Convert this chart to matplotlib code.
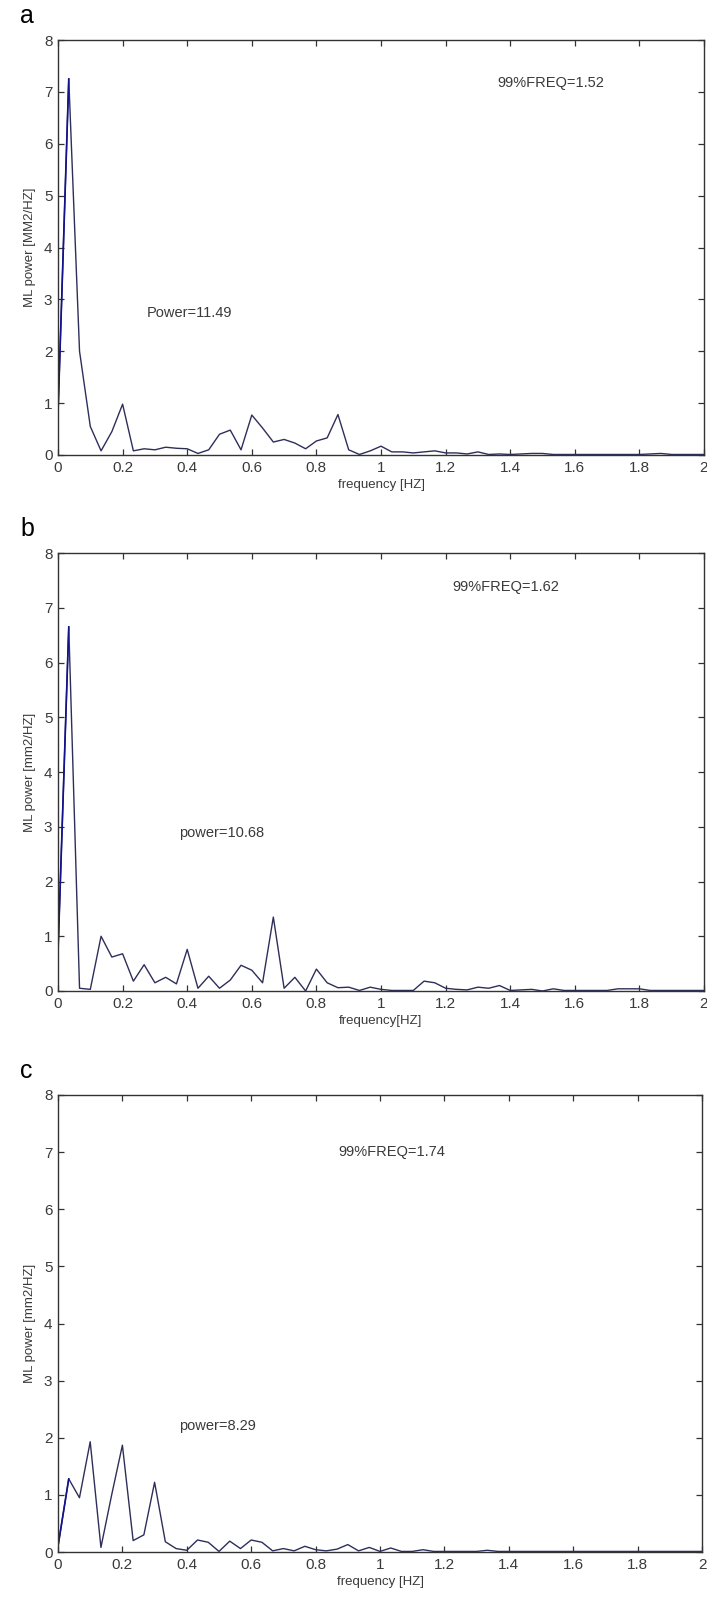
import numpy as np
import matplotlib
matplotlib.use("Agg")
import matplotlib.pyplot as plt

plt.rcParams['font.family'] = ['Liberation Sans', 'DejaVu Sans']

# frequency grid, 1/30 Hz spacing
freq = np.arange(61) / 30.0

# panel a
power_a = [0.8, 7.25, 2.0, 0.55, 0.08, 0.45, 0.98, 0.08, 0.12, 0.1,
           0.15, 0.13, 0.12, 0.03, 0.1, 0.4, 0.48, 0.1, 0.77, 0.52,
           0.25, 0.3, 0.23, 0.12, 0.27, 0.33, 0.78, 0.1, 0.01, 0.08,
           0.17, 0.06, 0.06, 0.04, 0.06, 0.08, 0.04, 0.04, 0.02, 0.06,
           0.01, 0.02, 0.01, 0.02, 0.03, 0.03, 0.01, 0.01, 0.01, 0.01,
           0.01, 0.01, 0.01, 0.01, 0.01, 0.02, 0.03, 0.01, 0.01, 0.01, 0.01]
# panel b
power_b = [0.7, 6.65, 0.05, 0.03, 1.0, 0.62, 0.68, 0.18, 0.48, 0.15,
           0.25, 0.13, 0.76, 0.05, 0.27, 0.05, 0.2, 0.47, 0.38, 0.15,
           1.35, 0.05, 0.25, 0.0, 0.4, 0.15, 0.06, 0.07, 0.01, 0.07,
           0.03, 0.01, 0.01, 0.01, 0.18, 0.15, 0.05, 0.03, 0.02, 0.07,
           0.05, 0.1, 0.01, 0.02, 0.03, 0.0, 0.04, 0.01, 0.01, 0.01,
           0.01, 0.01, 0.04, 0.04, 0.04, 0.01, 0.01, 0.01, 0.01, 0.01, 0.01]
# panel c
power_c = [0.1, 1.28, 0.95, 1.93, 0.08, 1.0, 1.87, 0.2, 0.3, 1.22,
           0.18, 0.06, 0.03, 0.21, 0.17, 0.01, 0.19, 0.06, 0.21, 0.17,
           0.02, 0.06, 0.02, 0.1, 0.04, 0.02, 0.05, 0.13, 0.02, 0.08,
           0.01, 0.07, 0.01, 0.01, 0.04, 0.01, 0.01, 0.01, 0.01, 0.01,
           0.03, 0.01, 0.01, 0.01, 0.01, 0.01, 0.01, 0.01, 0.01, 0.01,
           0.01, 0.01, 0.01, 0.01, 0.01, 0.01, 0.01, 0.01, 0.01, 0.01, 0.01]

letters = ["a", "b", "c"]
ylabels = ["ML power [MM2/HZ]", "ML power [mm2/HZ]", "ML power [mm2/HZ]"]
xlabels = ["frequency [HZ]", "frequency[HZ]", "frequency [HZ]"]
freq99 = ["99%FREQ=1.52", "99%FREQ=1.62", "99%FREQ=1.74"]
freq99_pos = [(1.36, 7.17), (1.22, 7.38), (0.87, 7.0)]
totals = ["Power=11.49", "power=10.68", "power=8.29"]
totals_pos = [(0.275, 2.74), (0.375, 2.89), (0.375, 2.2)]
series = [power_a, power_b, power_c]

W, H = 707, 1604
# axes boxes in pixels: left, right, top, bottom
boxes = [(58, 704, 40, 455), (58, 704, 553, 991), (58, 702, 1095, 1552)]

fig = plt.figure(figsize=(W / 100, H / 100), dpi=100)
line_col = "#2e2e5a"
txt_col = "#3a3a3a"

for i in range(3):
    l, r, t, b = boxes[i]
    ax = fig.add_axes([l / W, (H - b) / H, (r - l) / W, (b - t) / H])
    ax.plot(freq, series[i], color=line_col, lw=1.0)
    ax.plot(freq[:2], series[i][:2], color="#12128c", lw=1.2)
    ax.set_xlim(0, 2)
    ax.set_ylim(0, 8)
    ax.set_xticks(np.arange(0, 2.01, 0.2))
    ax.set_xticklabels(["0", "0.2", "0.4", "0.6", "0.8", "1", "1.2", "1.4", "1.6", "1.8", "2"])
    ax.set_yticks(range(9))
    ax.tick_params(direction="in", top=True, right=True, length=4, width=0.9,
                   labelsize=11, labelcolor=txt_col, color="#333333", pad=4)
    for s in ax.spines.values():
        s.set_color("#333333")
        s.set_linewidth(1.0)
    ax.set_ylabel(ylabels[i], fontsize=9.5, color=txt_col, labelpad=6)
    ax.set_xlabel(xlabels[i], fontsize=9.5, color=txt_col, labelpad=3)
    ax.text(freq99_pos[i][0], freq99_pos[i][1], freq99[i], fontsize=10.5,
            color=txt_col, ha="left", va="center")
    ax.text(totals_pos[i][0], totals_pos[i][1], totals[i], fontsize=10.5,
            color=txt_col, ha="left", va="center")
    fig.text(20 / W, 1 - (t - 24) / H, letters[i], fontsize=18, color="black",
             ha="left", va="center")

fig.savefig("out.png", dpi=100)
